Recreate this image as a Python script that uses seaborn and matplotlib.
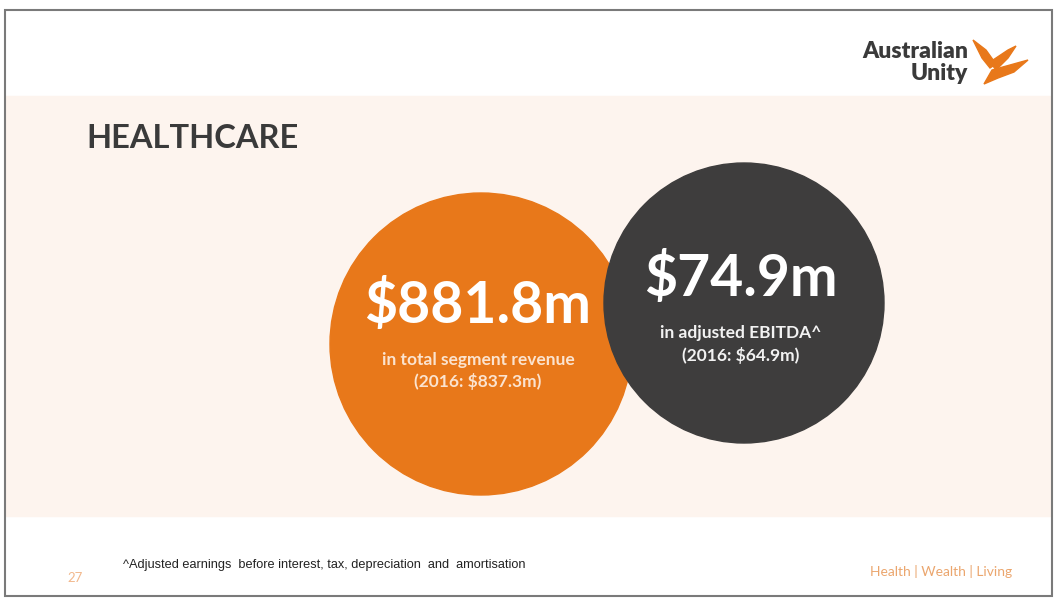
import matplotlib.pyplot as plt
import seaborn as sns
from matplotlib.patches import Circle, Rectangle, Polygon

# Slide data
segment = 'HEALTHCARE'
headline_values = ['$881.8m', '$74.9m']
descriptions = ['in total segment revenue', 'in adjusted EBITDA^']
prior_values = ['(2016: $837.3m)', '(2016: $64.9m)']
circle_colors = ['#E8781A', '#3E3D3D']
footnote = '^Adjusted earnings  before interest, tax, depreciation  and  amortisation'
page_number = '27'
tagline = 'Health | Wealth | Living'

sns.set_theme(style='white')
plt.rcParams['font.family'] = ['Lato', 'DejaVu Sans']

W, H = 1055, 598
fig = plt.figure(figsize=(W / 100, H / 100), dpi=100)
ax = fig.add_axes([0, 0, 1, 1])
ax.set_xlim(0, W)
ax.set_ylim(H, 0)
ax.set_aspect('equal')
ax.axis('off')

# background: white slide, peach band, grey frame
ax.add_patch(Rectangle((0, 0), W, H, color='white', zorder=0))
ax.add_patch(Rectangle((5, 96), W - 10, 420, color='#FDF4EE', zorder=1))
ax.add_patch(Rectangle((4.5, 10), W - 8, H - 12, fill=False, edgecolor='#7A7A7A', lw=1.5, zorder=10))

# circles (orange first, dark one overlaps it)
centres = [(481, 344), (744, 303)]
radii = [151, 140]
for (cx, cy), r, col in zip(centres, radii, circle_colors):
    ax.add_patch(Circle((cx, cy), r, color=col, zorder=2))

# circle texts
head_y = [306, 279]
desc_y = [360, 333]
prior_y = [382, 355]
text_cols = ['#FBE3CF', '#F2F2F2']
for i in range(2):
    cx = centres[i][0] - 3
    ax.text(cx, head_y[i], headline_values[i], color='white', fontsize=41, fontweight='bold',
            ha='center', va='center', zorder=3)
    ax.text(cx, desc_y[i], descriptions[i], color=text_cols[i], fontsize=12.5, fontweight='bold',
            ha='center', va='center', zorder=3)
    ax.text(cx, prior_y[i], prior_values[i], color=text_cols[i], fontsize=12.5, fontweight='bold',
            ha='center', va='center', zorder=3)

# title
ax.text(86, 139, segment, color='#3A3A3A', fontsize=23.5, fontweight='bold',
        ha='left', va='center', zorder=3)

# logo
ax.text(968, 51, 'Australian', color='#3A3A3A', fontsize=16.5, fontweight='heavy',
        ha='right', va='center', zorder=3)
ax.text(968, 73, 'Unity', color='#3A3A3A', fontsize=16.5, fontweight='heavy',
        ha='right', va='center', zorder=3)
bird = [
    [(973, 40), (986, 50), (996, 64), (990, 68), (982, 58)],
    [(990, 62), (1008, 50), (1016, 46), (1008, 58), (996, 70)],
    [(992, 70), (1028, 60), (1014, 72), (998, 78), (984, 84)],
]
for pts in bird:
    ax.add_patch(Polygon(pts, closed=True, color='#E8781A', zorder=3))

# footer
ax.text(67, 578, page_number, color='#F2B88C', fontsize=9.5, ha='left', va='center', zorder=3)
ax.text(123, 565, footnote, color='#222222', fontsize=9.2, ha='left', va='center',
        family=['Liberation Sans', 'DejaVu Sans'], zorder=3)
ax.text(1012, 572, tagline, color='#EBA66E', fontsize=10, ha='right', va='center', zorder=3)

fig.savefig('out.png', dpi=100)
plt.close()
